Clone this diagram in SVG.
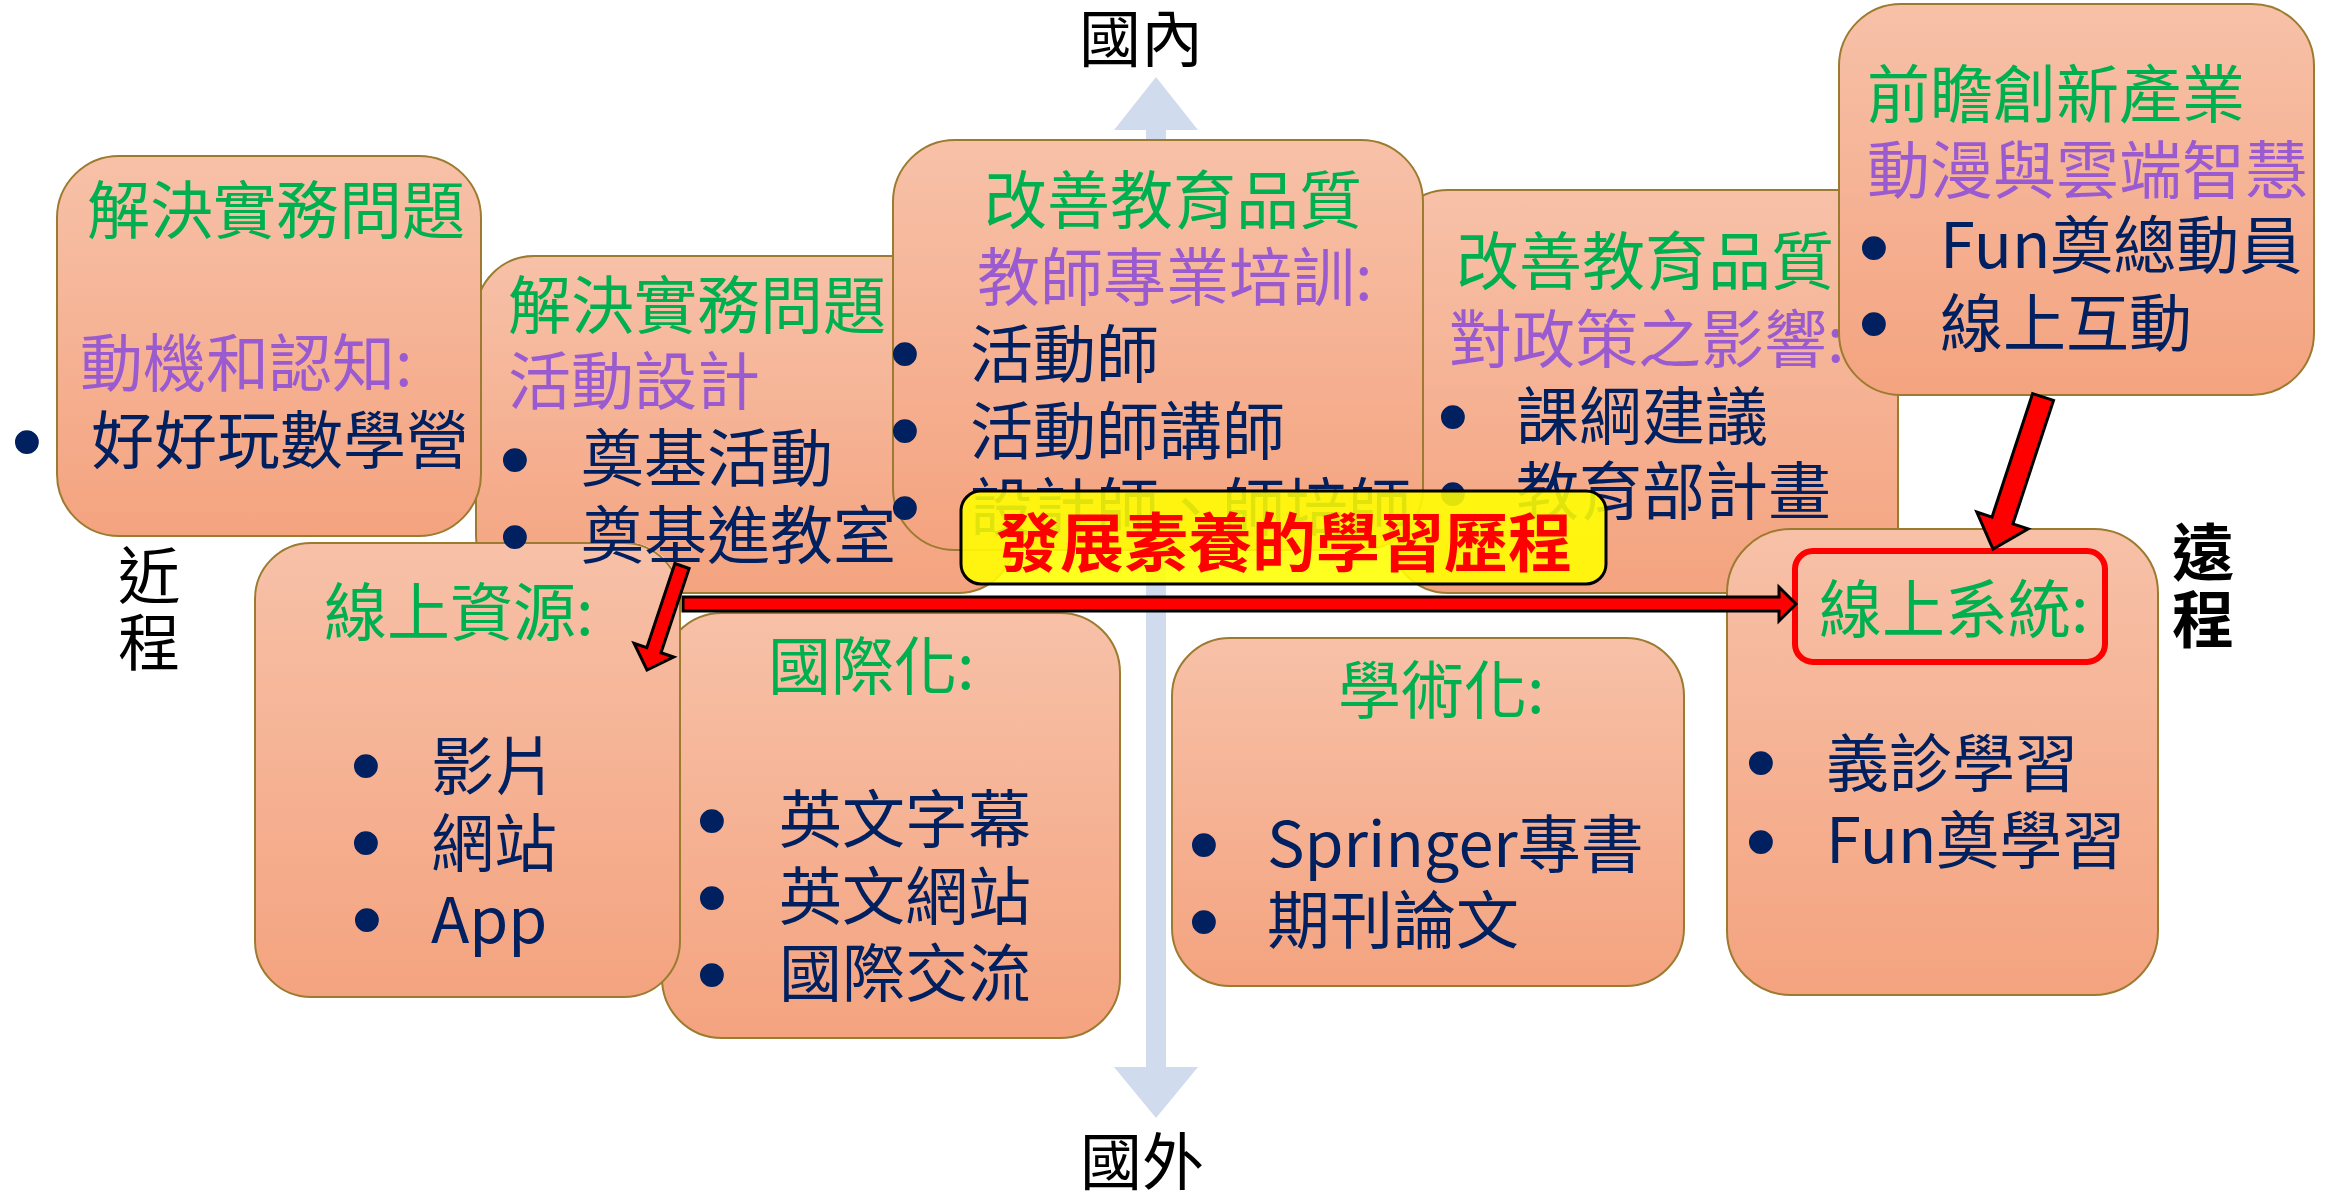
<svg xmlns="http://www.w3.org/2000/svg" width="2333" height="1195" viewBox="0 0 2333 1195">
<defs>
  <linearGradient id="peach" x1="0" y1="0" x2="0" y2="1">
    <stop offset="0" stop-color="#F7C1A8"/>
    <stop offset="1" stop-color="#F4A37F"/>
  </linearGradient>
  <mask id="maskB" maskUnits="userSpaceOnUse" x="0" y="0" width="2333" height="1195">
    <rect x="0" y="0" width="2333" height="1195" fill="#fff"/>
    <rect x="254" y="542" width="427" height="456" rx="56" fill="#000"/>
  </mask>
</defs>
<style>
  .box{fill:url(#peach);stroke:#9C7B30;stroke-width:2}
  .t{font-family:"Noto Sans CJK TC","Noto Sans",sans-serif;font-size:63px}
  .g{fill:#00B050}
  .p{fill:#9A5BD1}
  .n{fill:#002060}
  .b{font-family:"Liberation Sans",sans-serif;font-size:88px;fill:#002060;text-anchor:middle}
  .lbl{font-family:"Noto Sans CJK TC",sans-serif;font-size:62px;fill:#000;text-anchor:middle}
  .red{fill:#FF0000;stroke:#000;stroke-width:3;stroke-linejoin:miter}
</style>
<rect width="2333" height="1195" fill="#fff"/>

<g id="axis">
  <polygon fill="#D0DCEE" points="1156,77 1198,130 1166,130 1166,1067 1198,1067 1156,1118 1114,1067 1146,1067 1146,130 1114,130"/>
</g>

<g id="node-international">
  <rect class="box" x="662" y="613" width="458" height="425" rx="60"/>
  <text class="t g" x="768" y="689">國際化:</text>
  <text class="b" x="712" y="850">•</text>
  <text class="b" x="712" y="927">•</text>
  <text class="b" x="712" y="1004">•</text>
  <text class="t n" x="779" y="842">英文字幕</text>
  <text class="t n" x="779" y="919">英文網站</text>
  <text class="t n" x="779" y="996">國際交流</text>
</g>

<g id="node-online-resources">
  <rect class="box" x="255" y="543" width="425" height="454" rx="56"/>
  <text class="t g" x="324" y="635">線上資源:</text>
  <text class="b" x="366" y="795">•</text>
  <text class="b" x="366" y="872">•</text>
  <text class="b" x="367" y="949">•</text>
  <text class="t n" x="431" y="789">影片</text>
  <text class="t n" x="431" y="866">網站</text>
  <text class="t n" x="431" y="943">App</text>
</g>

<g id="node-activity-design">
  <rect class="box" x="476" y="256" width="540" height="337" rx="58" mask="url(#maskB)"/>
  <text class="t g" x="508" y="328">解決實務問題</text>
  <text class="t p" x="508" y="404">活動設計</text>
  <text class="b" x="515" y="489">•</text>
  <text class="b" x="515" y="566">•</text>
  <text class="t n" x="581" y="481">奠基活動</text>
  <text class="t n" x="581" y="558">奠基進教室</text>
</g>

<g id="node-math-camp">
  <rect class="box" x="57" y="156" width="424" height="380" rx="62"/>
  <text class="t g" x="87" y="233">解決實務問題</text>
  <text class="t p" x="80" y="386">動機和認知:</text>
  <text class="b" x="27" y="471">•</text>
  <text class="t n" x="91" y="463">好好玩數學營</text>
</g>

<g id="node-policy">
  <rect class="box" x="1390" y="190" width="508" height="403" rx="58"/>
  <text class="t g" x="1456" y="284">改善教育品質</text>
  <text class="t p" x="1449" y="362">對政策之影響:</text>
  <text class="b" x="1453" y="446">•</text>
  <text class="b" x="1453" y="523">•</text>
  <text class="t n" x="1516" y="439">課綱建議</text>
  <text class="t n" x="1516" y="514">教育部計畫</text>
</g>

<g id="node-teacher-training">
  <rect class="box" x="893" y="140" width="530" height="410" rx="62"/>
  <text class="t g" x="984" y="223">改善教育品質</text>
  <text class="t p" x="977" y="300">教師專業培訓:</text>
  <text class="b" x="905" y="383">•</text>
  <text class="b" x="905" y="460">•</text>
  <text class="b" x="905" y="537">•</text>
  <text class="t n" x="970" y="377">活動師</text>
  <text class="t n" x="970" y="454">活動師講師</text>
  <text class="t n" x="970" y="530">設計師、師培師</text>
</g>

<g id="node-innovation">
  <rect class="box" x="1839" y="4" width="475" height="391" rx="62"/>
  <text class="t g" x="1867" y="117">前瞻創新產業</text>
  <text class="t p" x="1867" y="193">動漫與雲端智慧</text>
  <text class="b" x="1874" y="277">•</text>
  <text class="b" x="1874" y="353">•</text>
  <text class="t n" x="1940" y="268">Fun奠總動員</text>
  <text class="t n" x="1940" y="346">線上互動</text>
</g>

<g id="node-academic">
  <rect class="box" x="1172" y="638" width="512" height="348" rx="58"/>
  <text class="t g" x="1338" y="713">學術化:</text>
  <text class="b" x="1204" y="874">•</text>
  <text class="b" x="1204" y="951">•</text>
  <text class="t n" x="1267" y="867">Springer專書</text>
  <text class="t n" x="1267" y="943">期刊論文</text>
</g>

<g id="node-online-system">
  <rect class="box" x="1727" y="529" width="431" height="466" rx="64"/>
  <rect x="1795" y="551" width="310" height="111" rx="18" fill="none" stroke="#FF0000" stroke-width="6"/>
  <text class="t g" x="1819" y="632">線上系統:</text>
  <text class="b" x="1761" y="792">•</text>
  <text class="b" x="1761" y="871">•</text>
  <text class="t n" x="1826" y="786">義診學習</text>
  <text class="t n" x="1826" y="863">Fun奠學習</text>
</g>

<g id="node-title">
  <rect x="961" y="491" width="645" height="93" rx="20" fill="#FFFF00" fill-opacity="0.88" stroke="#000" stroke-width="3"/>
  <text x="996" y="566" font-family="'Noto Sans CJK TC',sans-serif" font-size="64" font-weight="bold" fill="#FF0000">發展素養的學習歷程</text>
</g>

<g id="connectors">
  <polygon class="red" points="683,597 1779,597 1779,587 1796,604 1779,621 1779,611 683,611"/>
  <polygon class="red" points="674.9,563.5 689.1,568.5 661.0,652.7 673.7,657.1 647,670 634.1,643.3 646.8,647.7"/>
  <polygon class="red" points="2032.6,393.6 2053.5,400.4 2012.9,523.9 2028.1,528.9 1993,549 1976.8,512.1 1992.0,517.1"/>
</g>

<g id="labels">
  <text class="lbl" x="1141" y="62">國內</text>
  <text class="lbl" x="1142" y="1185">國外</text>
  <text class="lbl" x="149" y="599">近</text>
  <text class="lbl" x="149" y="666">程</text>
  <text class="lbl" x="2203" y="576" font-weight="bold">遠</text>
  <text class="lbl" x="2203" y="643" font-weight="bold">程</text>
</g>
</svg>
